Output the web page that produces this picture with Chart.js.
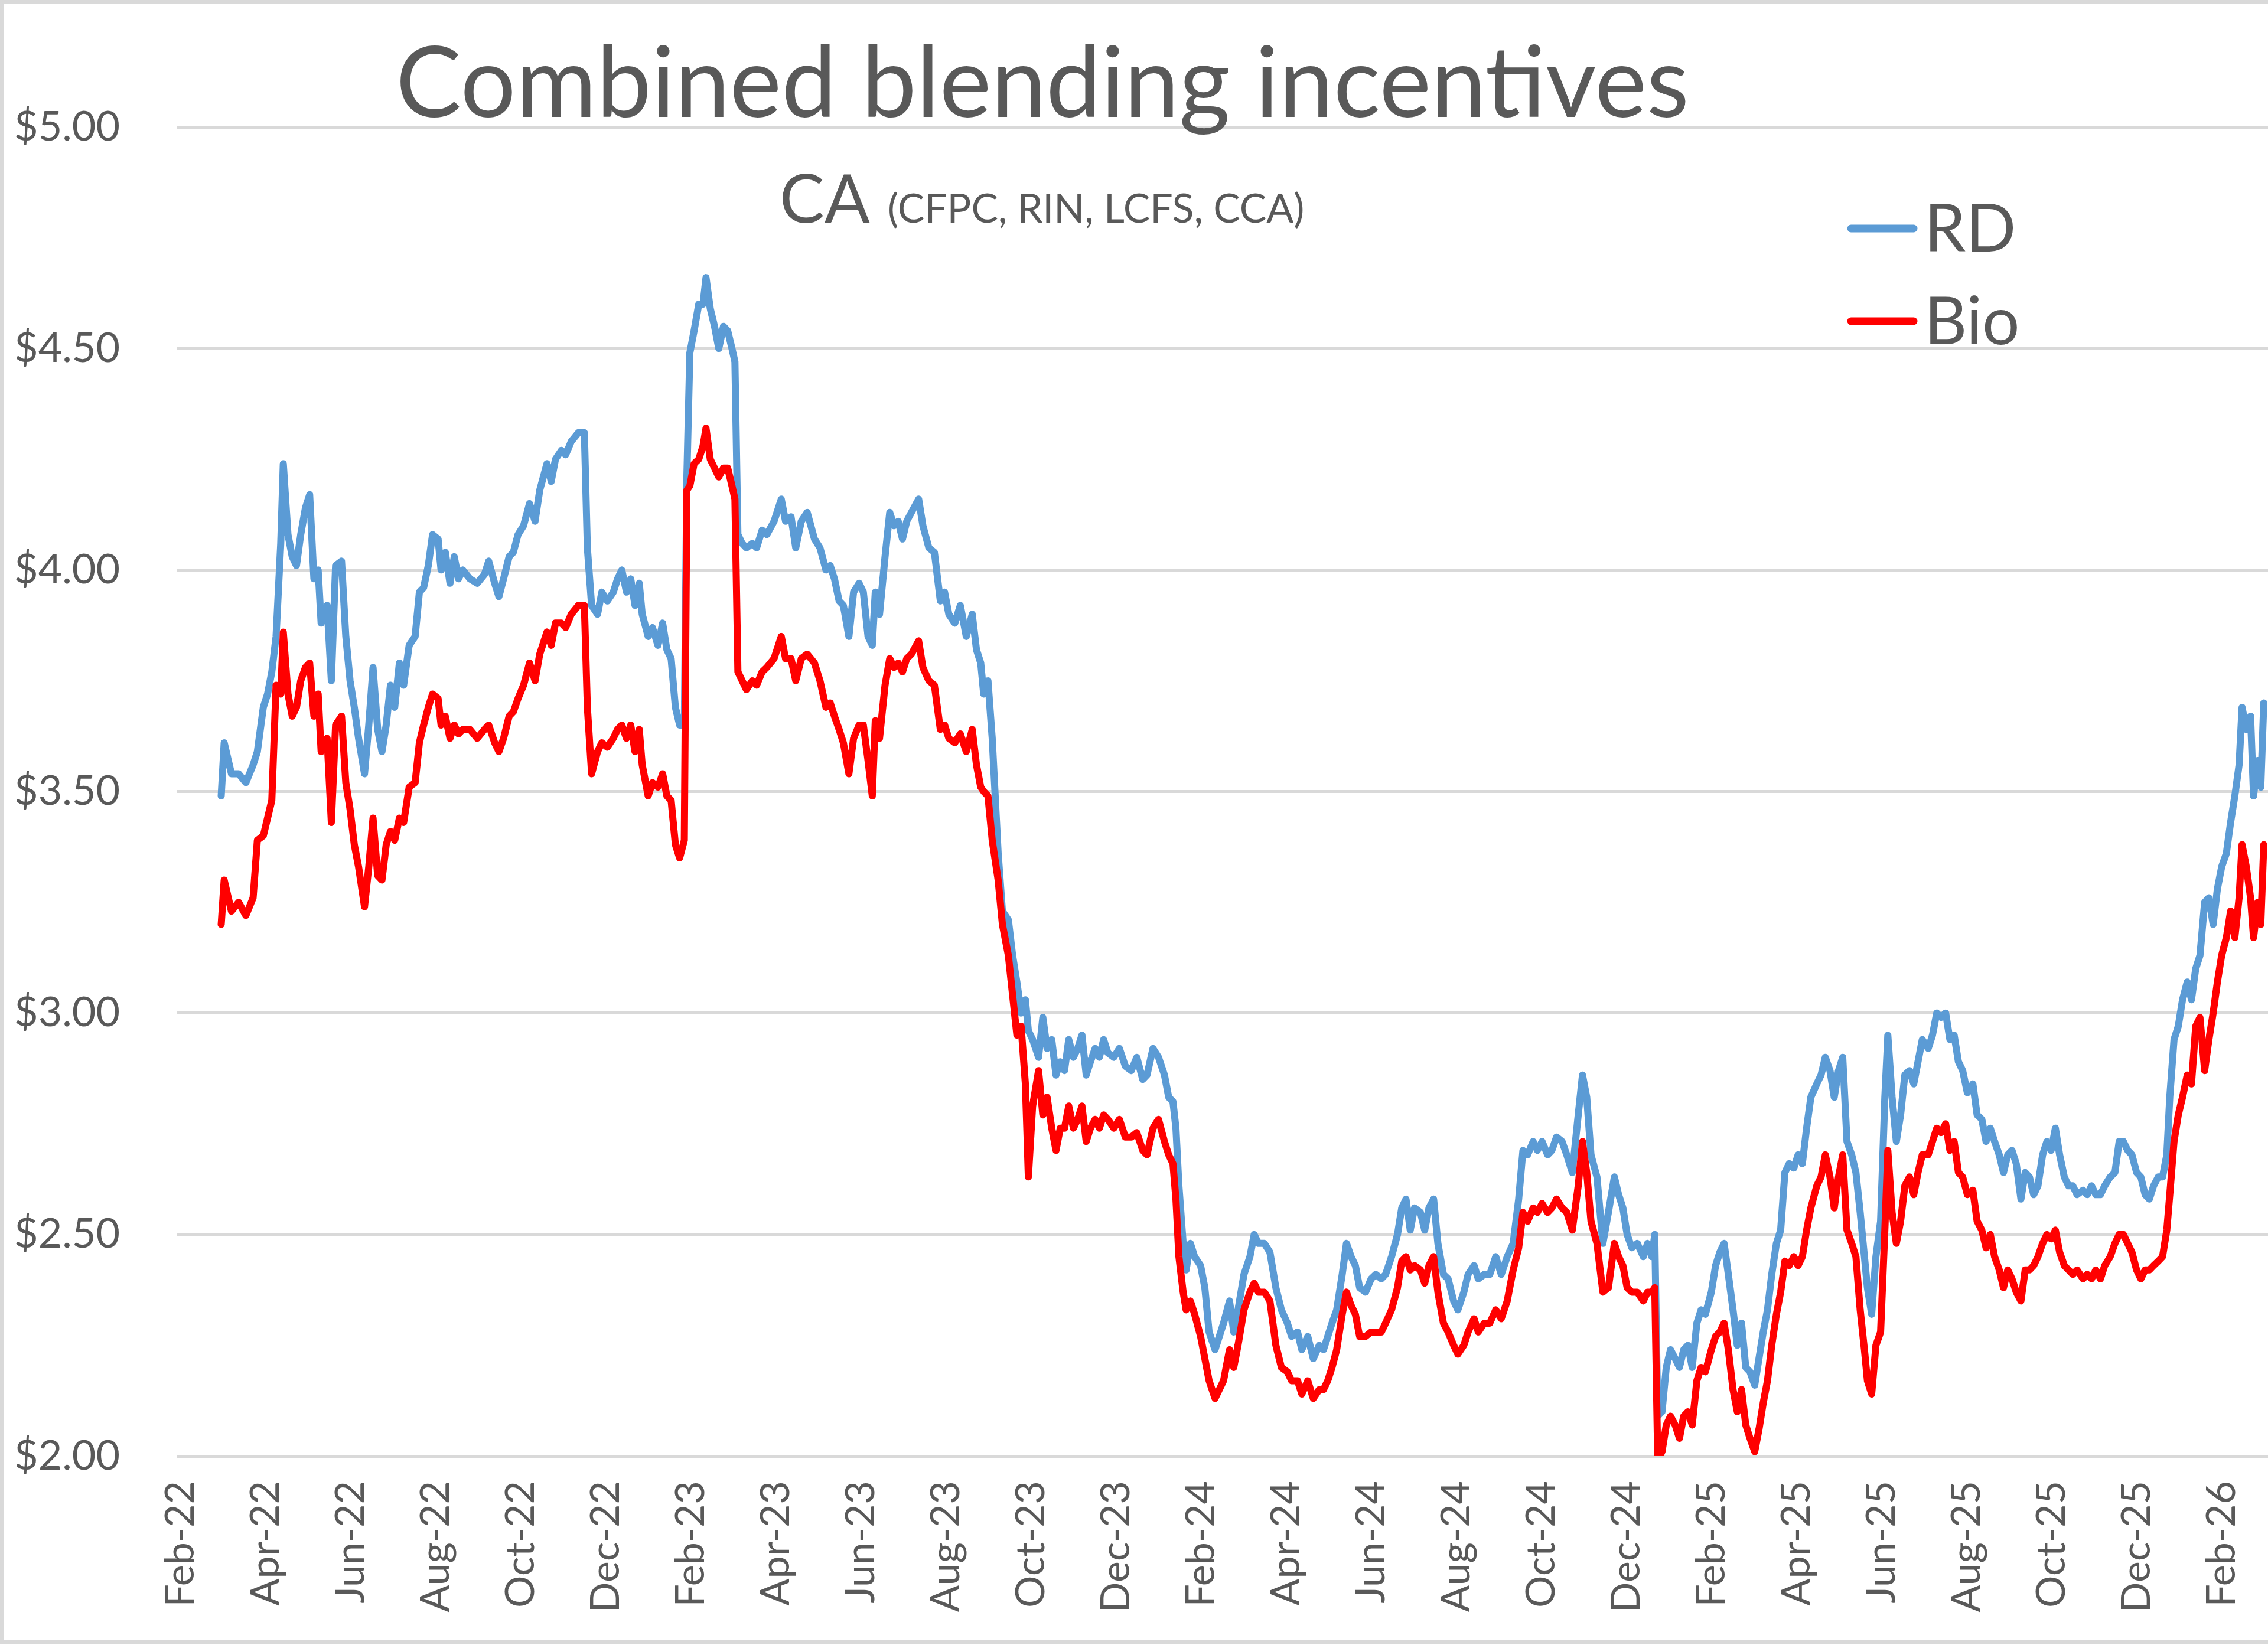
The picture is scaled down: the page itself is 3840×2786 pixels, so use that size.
<!DOCTYPE html>
<html>
<head>
<meta charset="utf-8">
<title>Combined blending incentives</title>
<script src="https://cdn.jsdelivr.net/npm/chart.js@4.4.1/dist/chart.umd.min.js"></script>
<style>
    html, body { margin: 0; padding: 0; background: #ffffff; overflow: hidden; }
    #chart { display: block; }
</style>
</head>
<body>
<canvas id="chart" width="3840" height="2786"></canvas>
<script>
// x axis tick labels, one every two months starting Feb-22
const tickLabels = [
    "Feb-22", "Apr-22", "Jun-22", "Aug-22", "Oct-22", "Dec-22",
    "Feb-23", "Apr-23", "Jun-23", "Aug-23", "Oct-23", "Dec-23",
    "Feb-24", "Apr-24", "Jun-24", "Aug-24", "Oct-24", "Dec-24",
    "Feb-25", "Apr-25", "Jun-25", "Aug-25", "Oct-25", "Dec-25",
    "Feb-26"
];

// observation dates, in months since 1 Feb 2022
const monthPos = [
    0.95, 1.02, 1.19, 1.36, 1.53, 1.70, 1.80, 1.94, 2.04, 2.14,
    2.24, 2.35, 2.41, 2.52, 2.62, 2.72, 2.82, 2.93, 3.03, 3.13,
    3.23, 3.30, 3.44, 3.54, 3.64, 3.78, 3.88, 3.98, 4.08, 4.18,
    4.32, 4.42, 4.52, 4.63, 4.73, 4.83, 4.93, 5.03, 5.14, 5.24,
    5.37, 5.51, 5.61, 5.71, 5.82, 5.92, 6.05, 6.12, 6.22, 6.33,
    6.43, 6.53, 6.63, 6.80, 6.97, 7.14, 7.24, 7.38, 7.48, 7.59,
    7.72, 7.82, 7.93, 8.06, 8.20, 8.33, 8.44, 8.61, 8.71, 8.81,
    8.95, 9.05, 9.18, 9.35, 9.49, 9.56, 9.66, 9.80, 9.90, 10.03,
    10.17, 10.27, 10.37, 10.48, 10.58, 10.68, 10.78, 10.85, 10.99, 11.09,
    11.22, 11.33, 11.43, 11.53, 11.63, 11.73, 11.84, 11.90, 11.97, 12.07,
    12.18, 12.28, 12.35, 12.45, 12.55, 12.65, 12.76, 12.86, 12.96, 13.03,
    13.10, 13.20, 13.30, 13.44, 13.54, 13.67, 13.78, 13.95, 14.12, 14.22,
    14.35, 14.46, 14.59, 14.73, 14.90, 15.03, 15.17, 15.27, 15.37, 15.48,
    15.58, 15.71, 15.82, 15.95, 16.05, 16.16, 16.26, 16.33, 16.43, 16.56,
    16.67, 16.77, 16.87, 16.97, 17.07, 17.18, 17.35, 17.45, 17.59, 17.72,
    17.86, 17.96, 18.06, 18.20, 18.33, 18.47, 18.61, 18.71, 18.81, 18.88,
    18.98, 19.08, 19.22, 19.32, 19.46, 19.56, 19.66, 19.76, 19.86, 19.93,
    20.03, 20.17, 20.27, 20.37, 20.48, 20.58, 20.68, 20.78, 20.88, 20.99,
    21.09, 21.19, 21.29, 21.39, 21.50, 21.60, 21.70, 21.80, 21.94, 22.07,
    22.21, 22.35, 22.48, 22.62, 22.72, 22.86, 22.99, 23.13, 23.23, 23.33,
    23.40, 23.47, 23.57, 23.64, 23.74, 23.84, 23.98, 24.08, 24.18, 24.32,
    24.42, 24.52, 24.66, 24.76, 24.86, 25.00, 25.14, 25.24, 25.34, 25.48,
    25.61, 25.75, 25.88, 26.02, 26.12, 26.26, 26.36, 26.50, 26.63, 26.77,
    26.87, 26.97, 27.07, 27.18, 27.31, 27.41, 27.52, 27.62, 27.72, 27.86,
    27.99, 28.10, 28.23, 28.33, 28.47, 28.61, 28.71, 28.81, 28.91, 29.01,
    29.15, 29.25, 29.35, 29.46, 29.56, 29.69, 29.80, 29.93, 30.03, 30.17,
    30.27, 30.41, 30.51, 30.65, 30.78, 30.92, 31.05, 31.19, 31.33, 31.46,
    31.56, 31.67, 31.80, 31.90, 32.01, 32.14, 32.24, 32.35, 32.48, 32.59,
    32.72, 32.86, 32.96, 33.06, 33.16, 33.30, 33.44, 33.57, 33.71, 33.81,
    33.91, 34.01, 34.12, 34.25, 34.39, 34.49, 34.59, 34.66, 34.73, 34.83,
    34.93, 35.03, 35.14, 35.24, 35.34, 35.44, 35.54, 35.65, 35.75, 35.85,
    35.99, 36.09, 36.19, 36.29, 36.39, 36.50, 36.60, 36.70, 36.80, 36.90,
    37.01, 37.11, 37.21, 37.31, 37.41, 37.52, 37.62, 37.72, 37.82, 37.93,
    38.03, 38.13, 38.23, 38.33, 38.47, 38.57, 38.67, 38.78, 38.88, 38.98,
    39.08, 39.18, 39.29, 39.39, 39.49, 39.59, 39.66, 39.76, 39.86, 39.97,
    40.07, 40.14, 40.24, 40.34, 40.44, 40.54, 40.65, 40.75, 40.85, 40.95,
    41.09, 41.19, 41.29, 41.39, 41.50, 41.60, 41.70, 41.80, 41.90, 42.01,
    42.14, 42.24, 42.35, 42.45, 42.55, 42.65, 42.76, 42.86, 42.96, 43.06,
    43.16, 43.27, 43.37, 43.47, 43.57, 43.67, 43.78, 43.88, 43.98, 44.08,
    44.18, 44.29, 44.39, 44.49, 44.59, 44.73, 44.83, 44.93, 45.03, 45.14,
    45.24, 45.37, 45.48, 45.58, 45.68, 45.78, 45.88, 45.99, 46.09, 46.19,
    46.29, 46.39, 46.50, 46.60, 46.70, 46.77, 46.87, 46.97, 47.07, 47.18,
    47.28, 47.38, 47.48, 47.59, 47.69, 47.79, 47.89, 47.99, 48.10, 48.20,
    48.30, 48.40, 48.47, 48.57, 48.67, 48.74, 48.84, 48.91, 48.98
];

// RD combined incentive, $/gal
const rdValues = [
    3.49, 3.61, 3.54, 3.54, 3.52, 3.56, 3.59, 3.69, 3.72, 3.77,
    3.85, 4.06, 4.24, 4.08, 4.03, 4.01, 4.08, 4.14, 4.17, 3.98,
    4.00, 3.88, 3.92, 3.75, 4.01, 4.02, 3.85, 3.75, 3.69, 3.62,
    3.54, 3.65, 3.78, 3.64, 3.59, 3.65, 3.74, 3.69, 3.79, 3.74,
    3.83, 3.85, 3.95, 3.96, 4.01, 4.08, 4.07, 4.00, 4.04, 3.97,
    4.03, 3.98, 4.00, 3.98, 3.97, 3.99, 4.02, 3.97, 3.94, 3.98,
    4.03, 4.04, 4.08, 4.10, 4.15, 4.11, 4.18, 4.24, 4.20, 4.25,
    4.27, 4.26, 4.29, 4.31, 4.31, 4.05, 3.92, 3.90, 3.95, 3.93,
    3.95, 3.98, 4.00, 3.95, 3.98, 3.92, 3.97, 3.90, 3.85, 3.87,
    3.83, 3.88, 3.82, 3.80, 3.69, 3.65, 3.65, 4.21, 4.49, 4.54,
    4.60, 4.60, 4.66, 4.59, 4.55, 4.50, 4.55, 4.54, 4.50, 4.47,
    4.08, 4.06, 4.05, 4.06, 4.05, 4.09, 4.08, 4.11, 4.16, 4.11,
    4.12, 4.05, 4.11, 4.13, 4.07, 4.05, 4.00, 4.01, 3.98, 3.93,
    3.92, 3.85, 3.95, 3.97, 3.95, 3.85, 3.83, 3.95, 3.90, 4.03,
    4.13, 4.10, 4.11, 4.07, 4.11, 4.13, 4.16, 4.10, 4.05, 4.04,
    3.93, 3.95, 3.90, 3.88, 3.92, 3.85, 3.90, 3.82, 3.79, 3.72,
    3.75, 3.62, 3.36, 3.23, 3.21, 3.13, 3.07, 3.00, 3.03, 2.96,
    2.94, 2.90, 2.99, 2.92, 2.94, 2.86, 2.89, 2.87, 2.94, 2.90,
    2.92, 2.95, 2.86, 2.89, 2.92, 2.90, 2.94, 2.91, 2.90, 2.92,
    2.88, 2.87, 2.90, 2.85, 2.86, 2.92, 2.90, 2.86, 2.81, 2.80,
    2.74, 2.61, 2.48, 2.42, 2.48, 2.45, 2.43, 2.38, 2.28, 2.24,
    2.27, 2.30, 2.35, 2.28, 2.33, 2.41, 2.45, 2.50, 2.48, 2.48,
    2.46, 2.38, 2.33, 2.30, 2.27, 2.28, 2.24, 2.27, 2.22, 2.25,
    2.24, 2.27, 2.30, 2.33, 2.41, 2.48, 2.45, 2.43, 2.38, 2.37,
    2.40, 2.41, 2.40, 2.41, 2.45, 2.50, 2.56, 2.58, 2.51, 2.56,
    2.55, 2.51, 2.56, 2.58, 2.48, 2.41, 2.40, 2.35, 2.33, 2.37,
    2.41, 2.43, 2.40, 2.41, 2.41, 2.45, 2.41, 2.45, 2.48, 2.58,
    2.69, 2.68, 2.71, 2.69, 2.71, 2.68, 2.69, 2.72, 2.71, 2.68,
    2.64, 2.77, 2.86, 2.81, 2.68, 2.63, 2.48, 2.55, 2.63, 2.59,
    2.56, 2.50, 2.47, 2.48, 2.45, 2.48, 2.45, 2.50, 2.09, 2.10,
    2.20, 2.24, 2.22, 2.20, 2.24, 2.25, 2.20, 2.30, 2.33, 2.32,
    2.37, 2.43, 2.46, 2.48, 2.41, 2.33, 2.25, 2.30, 2.20, 2.19,
    2.16, 2.22, 2.28, 2.33, 2.41, 2.48, 2.51, 2.64, 2.66, 2.65,
    2.68, 2.66, 2.74, 2.81, 2.84, 2.86, 2.90, 2.87, 2.81, 2.87,
    2.90, 2.71, 2.68, 2.64, 2.55, 2.45, 2.38, 2.32, 2.45, 2.53,
    2.81, 2.95, 2.81, 2.71, 2.77, 2.86, 2.87, 2.84, 2.89, 2.94,
    2.92, 2.95, 3.00, 2.99, 3.00, 2.94, 2.95, 2.89, 2.87, 2.82,
    2.84, 2.77, 2.76, 2.71, 2.74, 2.71, 2.68, 2.64, 2.68, 2.69,
    2.66, 2.58, 2.64, 2.63, 2.59, 2.61, 2.68, 2.71, 2.69, 2.74,
    2.68, 2.63, 2.61, 2.61, 2.59, 2.60, 2.59, 2.61, 2.59, 2.59,
    2.61, 2.63, 2.64, 2.71, 2.71, 2.69, 2.68, 2.64, 2.63, 2.59,
    2.58, 2.61, 2.63, 2.63, 2.68, 2.81, 2.94, 2.97, 3.03, 3.07,
    3.03, 3.10, 3.13, 3.25, 3.26, 3.20, 3.28, 3.33, 3.36, 3.43,
    3.49, 3.56, 3.69, 3.64, 3.67, 3.49, 3.57, 3.51, 3.70
];

// Biodiesel combined incentive, $/gal
const bioValues = [
    3.20, 3.30, 3.23, 3.25, 3.22, 3.26, 3.39, 3.40, 3.44, 3.48,
    3.74, 3.72, 3.86, 3.72, 3.67, 3.69, 3.75, 3.78, 3.79, 3.67,
    3.72, 3.59, 3.62, 3.43, 3.65, 3.67, 3.52, 3.46, 3.38, 3.33,
    3.24, 3.33, 3.44, 3.31, 3.30, 3.38, 3.41, 3.39, 3.44, 3.43,
    3.51, 3.52, 3.61, 3.65, 3.69, 3.72, 3.71, 3.65, 3.67, 3.62,
    3.65, 3.63, 3.64, 3.64, 3.62, 3.64, 3.65, 3.61, 3.59, 3.62,
    3.67, 3.68, 3.71, 3.74, 3.79, 3.75, 3.81, 3.86, 3.83, 3.88,
    3.88, 3.87, 3.90, 3.92, 3.92, 3.69, 3.54, 3.59, 3.61, 3.60,
    3.62, 3.64, 3.65, 3.62, 3.65, 3.59, 3.64, 3.56, 3.49, 3.52,
    3.51, 3.54, 3.49, 3.48, 3.38, 3.35, 3.39, 4.18, 4.19, 4.24,
    4.25, 4.28, 4.32, 4.25, 4.23, 4.21, 4.23, 4.23, 4.19, 4.16,
    3.77, 3.75, 3.73, 3.75, 3.74, 3.77, 3.78, 3.80, 3.85, 3.80,
    3.80, 3.75, 3.80, 3.81, 3.79, 3.75, 3.69, 3.70, 3.67, 3.64,
    3.61, 3.54, 3.62, 3.65, 3.65, 3.57, 3.49, 3.66, 3.62, 3.74,
    3.80, 3.78, 3.79, 3.77, 3.80, 3.81, 3.84, 3.78, 3.75, 3.74,
    3.64, 3.65, 3.62, 3.61, 3.63, 3.59, 3.64, 3.56, 3.51, 3.50,
    3.49, 3.39, 3.30, 3.20, 3.13, 3.04, 2.95, 2.97, 2.84, 2.63,
    2.79, 2.87, 2.77, 2.81, 2.74, 2.69, 2.74, 2.74, 2.79, 2.74,
    2.76, 2.79, 2.71, 2.74, 2.76, 2.74, 2.77, 2.76, 2.74, 2.76,
    2.72, 2.72, 2.73, 2.69, 2.68, 2.74, 2.76, 2.71, 2.68, 2.66,
    2.58, 2.45, 2.37, 2.33, 2.35, 2.32, 2.27, 2.22, 2.17, 2.13,
    2.15, 2.17, 2.24, 2.20, 2.25, 2.33, 2.37, 2.39, 2.37, 2.37,
    2.35, 2.25, 2.20, 2.19, 2.17, 2.17, 2.14, 2.17, 2.13, 2.15,
    2.15, 2.17, 2.20, 2.24, 2.32, 2.37, 2.34, 2.32, 2.27, 2.27,
    2.28, 2.28, 2.28, 2.30, 2.33, 2.38, 2.44, 2.45, 2.42, 2.43,
    2.42, 2.39, 2.43, 2.45, 2.37, 2.30, 2.28, 2.25, 2.23, 2.25,
    2.28, 2.31, 2.28, 2.30, 2.30, 2.33, 2.31, 2.35, 2.42, 2.47,
    2.55, 2.53, 2.56, 2.55, 2.57, 2.55, 2.56, 2.58, 2.56, 2.55,
    2.51, 2.61, 2.71, 2.64, 2.53, 2.48, 2.37, 2.38, 2.48, 2.45,
    2.43, 2.38, 2.37, 2.37, 2.35, 2.37, 2.37, 2.38, 1.99, 2.01,
    2.07, 2.09, 2.07, 2.04, 2.09, 2.10, 2.07, 2.17, 2.20, 2.19,
    2.24, 2.27, 2.28, 2.30, 2.24, 2.15, 2.10, 2.15, 2.07, 2.04,
    2.01, 2.06, 2.12, 2.17, 2.25, 2.32, 2.37, 2.44, 2.43, 2.45,
    2.43, 2.45, 2.51, 2.56, 2.61, 2.63, 2.68, 2.63, 2.56, 2.63,
    2.68, 2.51, 2.48, 2.45, 2.33, 2.24, 2.17, 2.14, 2.25, 2.28,
    2.51, 2.69, 2.55, 2.48, 2.53, 2.61, 2.63, 2.59, 2.64, 2.68,
    2.68, 2.71, 2.74, 2.73, 2.75, 2.69, 2.71, 2.64, 2.63, 2.59,
    2.60, 2.53, 2.51, 2.47, 2.50, 2.45, 2.42, 2.38, 2.42, 2.40,
    2.37, 2.35, 2.42, 2.42, 2.43, 2.45, 2.48, 2.50, 2.49, 2.51,
    2.46, 2.43, 2.42, 2.41, 2.42, 2.40, 2.41, 2.40, 2.42, 2.40,
    2.43, 2.45, 2.48, 2.50, 2.50, 2.48, 2.46, 2.42, 2.40, 2.42,
    2.42, 2.43, 2.44, 2.45, 2.51, 2.59, 2.71, 2.77, 2.81, 2.86,
    2.84, 2.97, 2.99, 2.87, 2.94, 3.00, 3.07, 3.13, 3.17, 3.23,
    3.17, 3.26, 3.38, 3.33, 3.26, 3.17, 3.25, 3.20, 3.38
];

const yTicks = [2.0, 2.5, 3.0, 3.5, 4.0, 4.5, 5.0];

const TEXT = "#595959";
const GRID = "#d9d9d9";
const FONT = "Lato, 'Open Sans', sans-serif";

// Title, subtitle, legend and frame drawn straight on the canvas
const decorPlugin = {
    id: "decor",
    beforeDraw(chart) {
        const { ctx, width, height } = chart;
        ctx.save();
        ctx.fillStyle = "#ffffff";
        ctx.fillRect(0, 0, width, height);
        ctx.strokeStyle = GRID;
        ctx.lineWidth = 6;
        ctx.beginPath();
        ctx.moveTo(width + 10, 3);
        ctx.lineTo(3, 3);
        ctx.lineTo(3, height - 5);
        ctx.lineTo(width + 10, height - 5);
        ctx.stroke();
        ctx.restore();
    },
    afterDraw(chart) {
        const { ctx } = chart;
        ctx.save();
        ctx.fillStyle = TEXT;
        ctx.textBaseline = "alphabetic";

        // main title
        ctx.font = `166px ${FONT}`;
        ctx.textAlign = "center";
        ctx.fillText("Combined blending incentives", 1765, 198);

        // subtitle: big "CA" then small list
        ctx.textAlign = "left";
        ctx.font = `114px ${FONT}`;
        const caW = ctx.measureText("CA").width;
        ctx.font = `68px ${FONT}`;
        const subTxt = "(CFPC, RIN, LCFS, CCA)";
        const subW = ctx.measureText(subTxt).width;
        const gap = 30;
        const startX = 1764 - (caW + gap + subW) / 2;
        ctx.font = `114px ${FONT}`;
        ctx.fillText("CA", startX, 377);
        ctx.font = `68px ${FONT}`;
        ctx.fillText(subTxt, startX + caW + gap, 377);

        // legend
        const items = [
            { ds: chart.data.datasets[0], y: 387 },
            { ds: chart.data.datasets[1], y: 544 }
        ];
        ctx.font = `112px ${FONT}`;
        items.forEach(it => {
            ctx.strokeStyle = it.ds.borderColor;
            ctx.lineWidth = 13;
            ctx.lineCap = "round";
            ctx.beginPath();
            ctx.moveTo(3134, it.y);
            ctx.lineTo(3240, it.y);
            ctx.stroke();
            ctx.fillText(it.ds.label, 3258, it.y + 39);
        });
        ctx.restore();
    }
};

const toPoints = vals => vals.map((v, i) => ({ x: monthPos[i], y: v }));

new Chart(document.getElementById("chart"), {
    type: "line",
    data: {
        datasets: [
            {
                label: "RD",
                data: toPoints(rdValues),
                borderColor: "#5b9bd5",
                borderWidth: 12,
                pointRadius: 0,
                tension: 0,
                borderJoinStyle: "round",
                borderCapStyle: "round",
                order: 1
            },
            {
                label: "Bio",
                data: toPoints(bioValues),
                borderColor: "#ff0000",
                borderWidth: 12,
                pointRadius: 0,
                tension: 0,
                borderJoinStyle: "round",
                borderCapStyle: "round",
                order: 0
            }
        ]
    },
    options: {
        responsive: false,
        animation: false,
        devicePixelRatio: 1,
        layout: { padding: { top: 215, right: 0, bottom: 0, left: 0 } },
        plugins: {
            legend: { display: false },
            title: { display: false },
            tooltip: { enabled: false }
        },
        scales: {
            x: {
                type: "linear",
                min: -0.085,
                max: 49.08,
                afterBuildTicks: scale => {
                    scale.ticks = tickLabels.map((_, i) => ({ value: i * 2 }));
                },
                afterFit: scale => {
                    scale.height = 320;
                    // plot runs to the right edge, as in the original
                    scale.paddingLeft = 0;
                    scale.paddingRight = 0;
                },
                grid: { display: false, drawTicks: false },
                border: { display: false },
                ticks: {
                    autoSkip: false,
                    maxRotation: 90,
                    minRotation: 90,
                    padding: 42,
                    color: TEXT,
                    font: { family: FONT, size: 68 },
                    callback: value => tickLabels[Math.round(value / 2)]
                }
            },
            y: {
                min: 2,
                max: 5,
                afterBuildTicks: scale => {
                    scale.ticks = yTicks.map(v => ({ value: v }));
                },
                afterFit: scale => { scale.width = 300; },
                grid: { color: GRID, lineWidth: 5, drawTicks: false },
                border: { display: false },
                ticks: {
                    padding: 97,
                    color: TEXT,
                    font: { family: FONT, size: 70 },
                    callback: value => "$" + Number(value).toFixed(2)
                }
            }
        }
    },
    plugins: [decorPlugin]
});
</script>
</body>
</html>
